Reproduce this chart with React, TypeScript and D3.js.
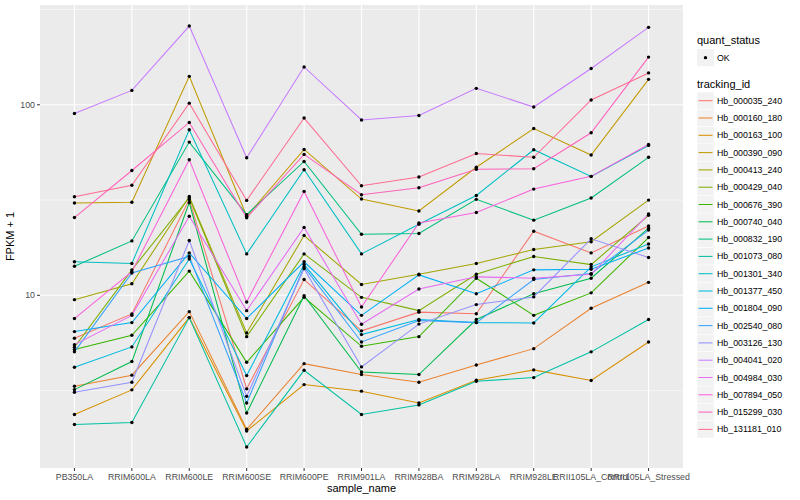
import * as d3 from "d3";

const sampleNames = [
  "PB350LA", "RRIM600LA", "RRIM600LE", "RRIM600SE", "RRIM600PE", "RRIM901LA",
  "RRIM928BA", "RRIM928LA", "RRIM928LE", "RRII105LA_Control", "RRII105LA_Stressed",
];

// FPKM + 1, one value per sample
const hb_000035_240 = [5.95, 7.99, 31.8, 3.23, 12.1, 6.51, 8.16, 8.0, 21.7, 16.7, 23.1];
const hb_000160_180 = [3.33, 3.81, 8.21, 1.98, 4.38, 3.84, 3.5, 4.31, 5.25, 8.55, 11.7];
const hb_000163_100 = [2.37, 3.19, 7.64, 1.94, 3.4, 3.14, 2.72, 3.58, 4.06, 3.57, 5.69];
const hb_000390_090 = [30.5, 30.8, 141, 26.0, 58.3, 32.0, 27.7, 47.0, 75.1, 54.5, 136];
const hb_000413_240 = [9.49, 11.5, 33.0, 6.35, 20.6, 11.4, 12.9, 14.7, 17.4, 19.1, 31.6];
const hb_000429_040 = [5.34, 13.6, 32.5, 6.07, 16.5, 9.76, 8.31, 12.9, 16.0, 14.5, 26.3];
const hb_000676_390 = [5.19, 6.17, 13.4, 4.45, 9.76, 5.4, 6.07, 12.3, 7.85, 10.3, 20.1];
const hb_000740_040 = [3.2, 4.49, 30.7, 2.41, 9.96, 3.96, 3.84, 7.46, 10.2, 12.3, 22.5];
const hb_000832_190 = [14.2, 19.3, 63.7, 26.5, 50.4, 20.9, 21.1, 31.9, 24.8, 32.4, 53.0];
const hb_001073_080 = [2.1, 2.15, 7.64, 1.6, 4.04, 2.37, 2.66, 3.54, 3.7, 5.05, 7.46];
const hb_001301_340 = [15.0, 14.7, 73.9, 16.5, 45.6, 16.5, 23.6, 33.4, 58.1, 42.1, 61.2];
const hb_001377_450 = [4.19, 5.36, 15.5, 3.79, 14.5, 6.22, 7.46, 7.19, 7.16, 14.1, 18.6];
const hb_001804_090 = [6.45, 7.19, 16.7, 7.55, 15.0, 7.85, 12.8, 10.2, 13.6, 13.7, 17.7];
const hb_002540_080 = [5.05, 13.1, 16.0, 2.72, 14.1, 5.69, 7.37, 7.19, 12.1, 13.0, 22.0];
const hb_003126_130 = [3.1, 3.5, 19.4, 2.95, 13.8, 4.21, 7.06, 8.94, 9.81, 19.8, 15.8];
const hb_004041_020 = [90, 119, 259, 52.7, 158, 83.2, 87.9, 122, 97.3, 155, 255];
const hb_004984_030 = [5.51, 7.85, 26.0, 8.31, 22.7, 7.05, 10.8, 12.5, 12.3, 12.9, 26.7];
const hb_007894_050 = [7.55, 13.3, 51.5, 9.23, 35.1, 8.69, 24.0, 27.2, 36.1, 42.1, 61.9];
const hb_015299_030 = [25.6, 45.2, 80.8, 25.5, 54.9, 33.7, 36.7, 45.9, 46.2, 71.3, 178];
const hb_131181_010 = [32.9, 37.8, 102, 31.5, 85.2, 37.6, 41.8, 55.5, 53.0, 106, 147];

const trackingIds = [
  "Hb_000035_240", "Hb_000160_180", "Hb_000163_100", "Hb_000390_090", "Hb_000413_240",
  "Hb_000429_040", "Hb_000676_390", "Hb_000740_040", "Hb_000832_190", "Hb_001073_080",
  "Hb_001301_340", "Hb_001377_450", "Hb_001804_090", "Hb_002540_080", "Hb_003126_130",
  "Hb_004041_020", "Hb_004984_030", "Hb_007894_050", "Hb_015299_030", "Hb_131181_010",
];
const seriesValues = [
  hb_000035_240, hb_000160_180, hb_000163_100, hb_000390_090, hb_000413_240,
  hb_000429_040, hb_000676_390, hb_000740_040, hb_000832_190, hb_001073_080,
  hb_001301_340, hb_001377_450, hb_001804_090, hb_002540_080, hb_003126_130,
  hb_004041_020, hb_004984_030, hb_007894_050, hb_015299_030, hb_131181_010,
];

const huePalette = [
  "#F8766D", "#EA8331", "#D89000", "#C09B00", "#A3A500", "#7CAE00", "#39B600",
  "#00BB4E", "#00BF7D", "#00C1A3", "#00BFC4", "#00BAE0", "#00B0F6", "#35A2FF",
  "#9590FF", "#C77CFF", "#E76BF3", "#FA62DB", "#FF62BC", "#FF6C91",
];

const majorY = [10, 100];
const minorY = [Math.sqrt(10), Math.sqrt(1000), Math.sqrt(100000)];

export default function App() {
  const width = 800;
  const height = 500;
  const left = 40, right = 683, top = 5, bottom = 468;
  const font = "'Liberation Sans', Arial, Helvetica, sans-serif";

  const x = d3.scalePoint<string>().domain(sampleNames).range([left, right]).padding(0.6);

  // log10 scale with ggplot's 5% expansion
  const all = seriesValues.flat();
  const lo = Math.log10(d3.min(all) as number);
  const hi = Math.log10(d3.max(all) as number);
  const pad = (hi - lo) * 0.05;
  const y = d3.scaleLog().domain([10 ** (lo - pad), 10 ** (hi + pad)]).range([bottom, top]);

  const line = d3.line<number>()
    .x((_, i) => x(sampleNames[i]) as number)
    .y((d) => y(d));

  const legendX = 697;
  const keyH = 17.3;

  return (
    <div style={{ position: "fixed", left: 0, top: 0 }}>
      <svg width={width} height={height} style={{ display: "block", fontFamily: font }}>
        <rect width={width} height={height} fill="#fff" />
        <rect x={left} y={top} width={right - left} height={bottom - top} fill="#EBEBEB" />
        {minorY.map((v) => (
          <line key={"mn" + v} x1={left} x2={right} y1={y(v)} y2={y(v)} stroke="#fff" strokeWidth={0.55} />
        ))}
        {majorY.map((v) => (
          <line key={"mj" + v} x1={left} x2={right} y1={y(v)} y2={y(v)} stroke="#fff" strokeWidth={1.1} />
        ))}
        {sampleNames.map((s) => (
          <line key={"gx" + s} x1={x(s)} x2={x(s)} y1={top} y2={bottom} stroke="#fff" strokeWidth={1.1} />
        ))}

        {seriesValues.map((vals, i) => (
          <path key={"l" + i} d={line(vals) ?? ""} fill="none" stroke={huePalette[i]} strokeWidth={1.05} />
        ))}
        {seriesValues.map((vals, i) =>
          vals.map((v, j) => (
            <circle key={"p" + i + "-" + j} cx={x(sampleNames[j])} cy={y(v)} r={1.7} fill="#000" />
          ))
        )}

        {/* y axis */}
        {majorY.map((v) => (
          <g key={"ty" + v}>
            <line x1={left - 3} x2={left} y1={y(v)} y2={y(v)} stroke="#333" strokeWidth={1} />
            <text x={left - 5} y={y(v)} dy="0.35em" textAnchor="end" fontSize={8.8} fill="#4D4D4D">
              {v}
            </text>
          </g>
        ))}
        {/* x axis */}
        {sampleNames.map((s) => (
          <g key={"tx" + s}>
            <line x1={x(s)} x2={x(s)} y1={bottom} y2={bottom + 3} stroke="#333" strokeWidth={1} />
            <text x={x(s)} y={bottom + 12} textAnchor="middle" fontSize={8.8} fill="#4D4D4D">
              {s}
            </text>
          </g>
        ))}
        <text x={(left + right) / 2} y={492} textAnchor="middle" fontSize={11} fill="#000">
          sample_name
        </text>
        <text
          transform={`translate(14, ${(top + bottom) / 2}) rotate(-90)`}
          textAnchor="middle"
          fontSize={11}
          fill="#000"
        >
          FPKM + 1
        </text>

        {/* legends */}
        <text x={legendX} y={44} fontSize={11} fill="#000">quant_status</text>
        <rect x={legendX} y={49} width={17} height={keyH} fill="#F2F2F2" />
        <circle cx={legendX + 8.5} cy={49 + keyH / 2} r={1.7} fill="#000" />
        <text x={legendX + 20} y={49 + keyH / 2} dy="0.35em" fontSize={8.8} fill="#000">OK</text>

        <text x={legendX} y={88} fontSize={11} fill="#000">tracking_id</text>
        {trackingIds.map((id, i) => {
          const cy = 100.7 + i * keyH;
          return (
            <g key={"lg" + id}>
              <rect x={legendX} y={cy - keyH / 2} width={17} height={keyH} fill="#F2F2F2" stroke="#fff" strokeWidth={0.5} />
              <line x1={legendX + 1.5} x2={legendX + 15.5} y1={cy} y2={cy} stroke={huePalette[i]} strokeWidth={1.05} />
              <text x={legendX + 20} y={cy} dy="0.35em" fontSize={8.8} fill="#000">{id}</text>
            </g>
          );
        })}
      </svg>
    </div>
  );
}
